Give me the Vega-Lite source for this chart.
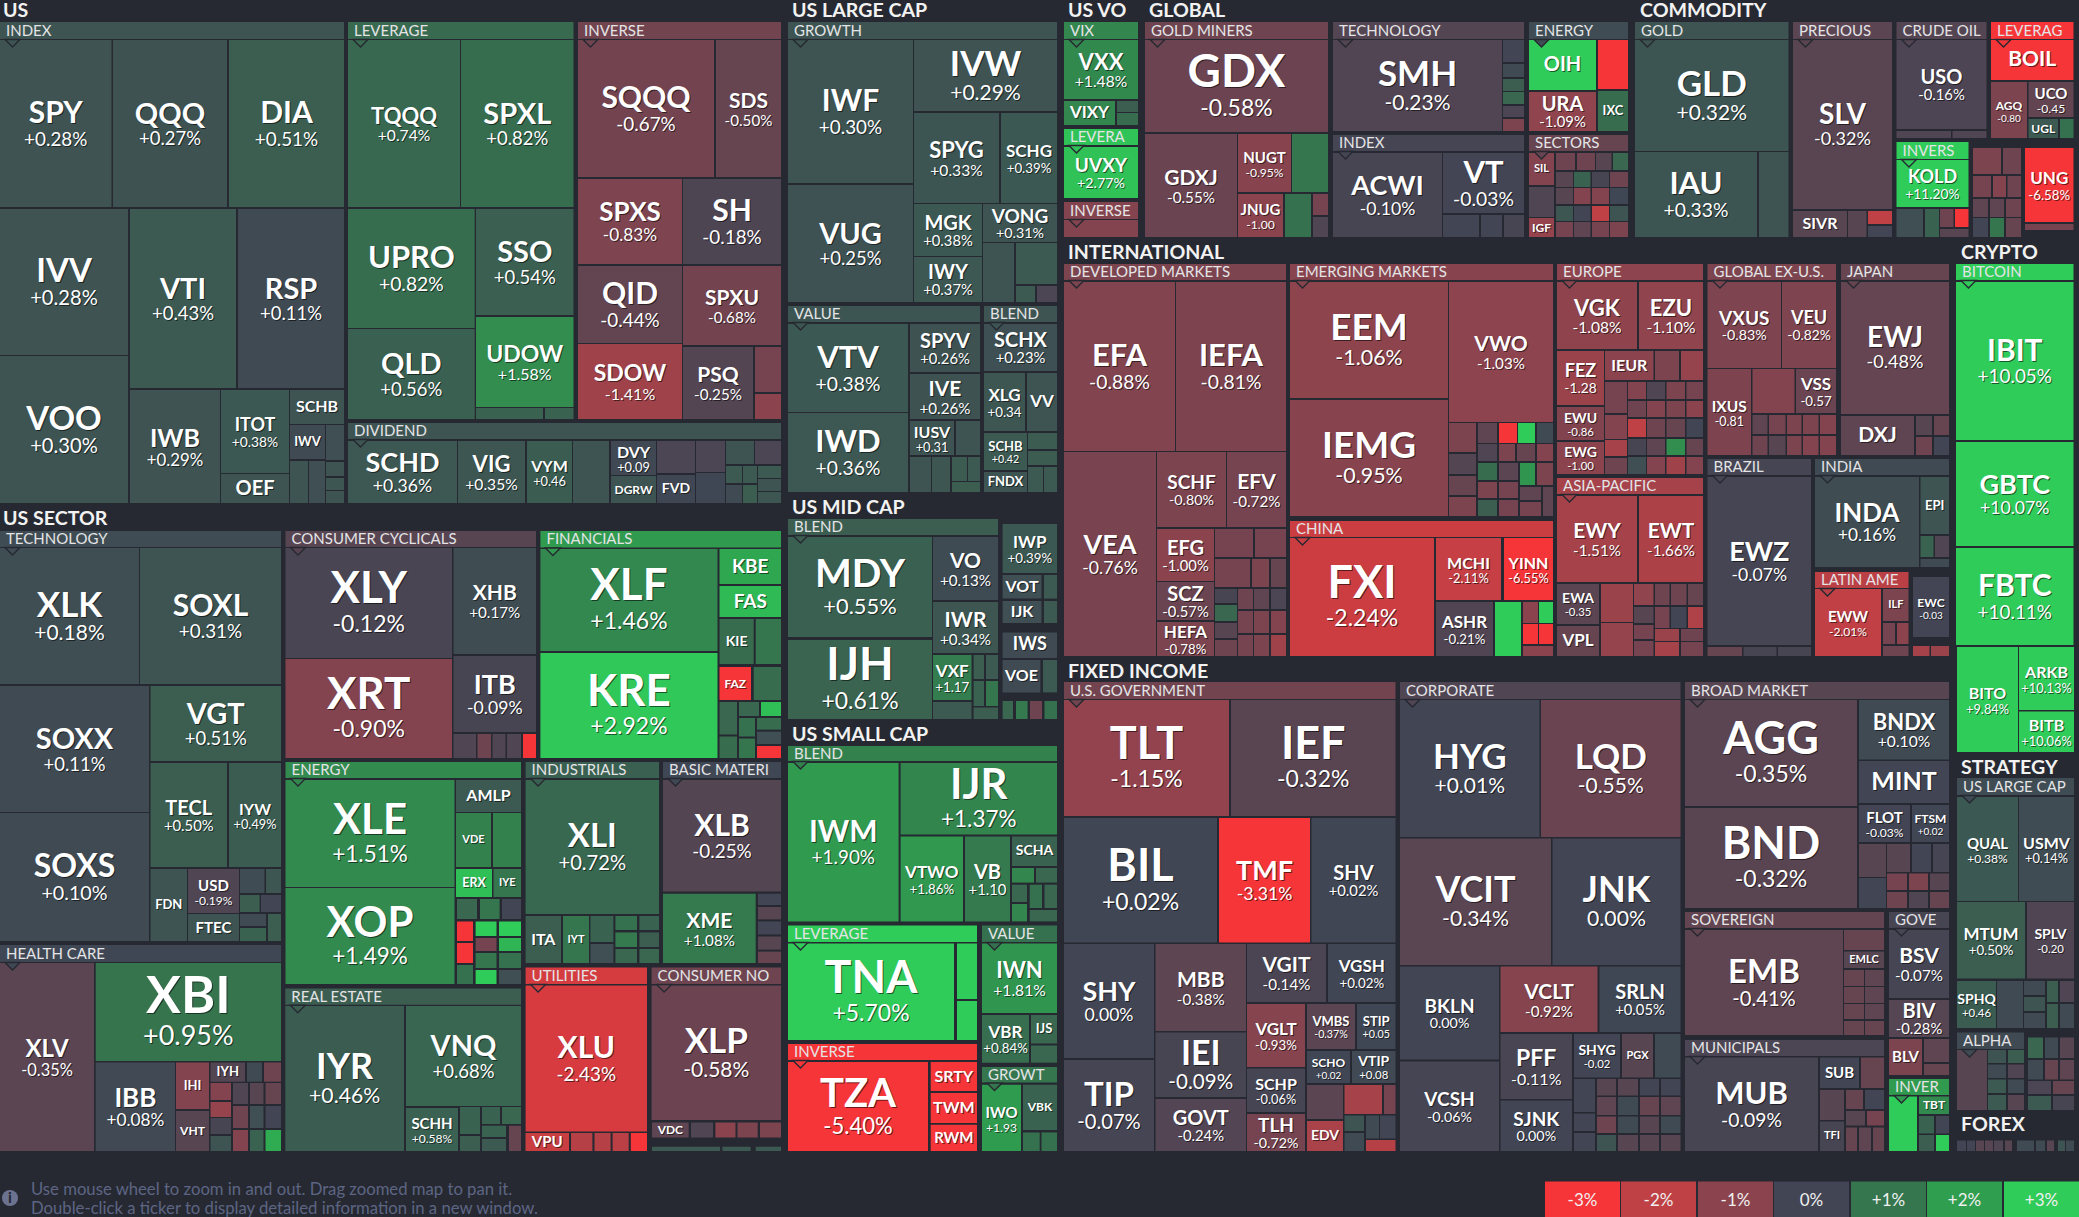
{"$schema":"https://vega.github.io/schema/vega-lite/v6.json","width":2079,"height":1217,"padding":0,"autosize":{"type":"none"},"background":"#262931","config":{"view":{"stroke":null},"font":"Lato"},
"datasets":{
"titles":[{"n":"US","x":3,"y":11},{"n":"US LARGE CAP","x":792,"y":11},{"n":"US VO","x":1068,"y":11},{"n":"GLOBAL","x":1149,"y":11},{"n":"COMMODITY","x":1640,"y":11},{"n":"INTERNATIONAL","x":1068,"y":253},{"n":"CRYPTO","x":1961,"y":253},{"n":"US SECTOR","x":3,"y":519},{"n":"US MID CAP","x":792,"y":508},{"n":"US SMALL CAP","x":792,"y":735},{"n":"FIXED INCOME","x":1068,"y":672},{"n":"STRATEGY","x":1961,"y":768},{"n":"FOREX","x":1961,"y":1125}],
"headers":[{"n":"INDEX","c":0.3,"x":0,"x2":344,"y":22,"y2":39},{"n":"LEVERAGE","c":0.75,"x":348,"x2":573.5,"y":22,"y2":39},{"n":"INVERSE","c":-0.65,"x":578,"x2":781,"y":22,"y2":39},{"n":"DIVIDEND","c":0.3,"x":348,"x2":781,"y":423,"y2":439},{"n":"GROWTH","c":0.3,"x":788,"x2":1057,"y":22,"y2":39},{"n":"VALUE","c":0.33,"x":788,"x2":980,"y":306,"y2":322},{"n":"BLEND","c":0.3,"x":984,"x2":1057,"y":306,"y2":322},{"n":"VIX","c":1.4,"x":1064,"x2":1138,"y":22,"y2":39},{"n":"LEVERA","c":2.8,"x":1064,"x2":1138,"y":129,"y2":145},{"n":"INVERSE","c":-0.9,"x":1064,"x2":1138,"y":202,"y2":219},{"n":"GOLD MINERS","c":-0.6,"x":1145,"x2":1328,"y":22,"y2":39},{"n":"TECHNOLOGY","c":-0.25,"x":1333,"x2":1524,"y":22,"y2":39},{"n":"INDEX","c":-0.05,"x":1333,"x2":1524,"y":135,"y2":151},{"n":"ENERGY","c":0.15,"x":1529,"x2":1628,"y":22,"y2":39},{"n":"SECTORS","c":-0.5,"x":1529,"x2":1628,"y":135,"y2":151},{"n":"GOLD","c":0.3,"x":1635,"x2":1788.5,"y":22,"y2":39},{"n":"PRECIOUS","c":-0.35,"x":1793,"x2":1892,"y":22,"y2":39},{"n":"CRUDE OIL","c":-0.25,"x":1896.5,"x2":1986.5,"y":22,"y2":39},{"n":"LEVERAG","c":-3.5,"x":1991,"x2":2073.5,"y":22,"y2":39},{"n":"INVERS","c":3,"x":1896.5,"x2":1968.5,"y":142,"y2":159},{"n":"DEVELOPED MARKETS","c":-0.8,"x":1064,"x2":1286,"y":264,"y2":280},{"n":"EMERGING MARKETS","c":-0.95,"x":1290,"x2":1553,"y":264,"y2":280},{"n":"CHINA","c":-2.2,"x":1290,"x2":1553,"y":521,"y2":537},{"n":"EUROPE","c":-1.05,"x":1557,"x2":1703,"y":264,"y2":280},{"n":"ASIA-PACIFIC","c":-1.5,"x":1557,"x2":1703,"y":478,"y2":494},{"n":"GLOBAL EX-U.S.","c":-0.8,"x":1707.5,"x2":1836,"y":264,"y2":280},{"n":"JAPAN","c":-0.5,"x":1841,"x2":1949,"y":264,"y2":280},{"n":"BRAZIL","c":-0.05,"x":1707.5,"x2":1811,"y":459,"y2":475},{"n":"INDIA","c":0.1,"x":1815,"x2":1949,"y":459,"y2":475},{"n":"LATIN AME","c":-1.9,"x":1815,"x2":1908.5,"y":572,"y2":588},{"n":"BITCOIN","c":3,"x":1956,"x2":2073.5,"y":264,"y2":280},{"n":"US LARGE CAP","c":0.15,"x":1957,"x2":2074,"y":778,"y2":795},{"n":"ALPHA","c":0.1,"x":1957,"x2":2024,"y":1032.5,"y2":1049},{"n":"TECHNOLOGY","c":0.15,"x":0,"x2":281,"y":531,"y2":547},{"n":"CONSUMER CYCLICALS","c":-0.3,"x":285.5,"x2":536,"y":531,"y2":547},{"n":"ENERGY","c":1.5,"x":285.5,"x2":521,"y":762,"y2":778},{"n":"HEALTH CARE","c":0.05,"x":0,"x2":281,"y":945,"y2":962},{"n":"FINANCIALS","c":1.9,"x":540.4,"x2":781,"y":531,"y2":547.5},{"n":"INDUSTRIALS","c":0.55,"x":525.6,"x2":659,"y":762,"y2":778},{"n":"BASIC MATERI","c":0.05,"x":663,"x2":781,"y":762,"y2":778},{"n":"REAL ESTATE","c":0.5,"x":285.3,"x2":521,"y":988.4,"y2":1004.7},{"n":"UTILITIES","c":-2.4,"x":525.6,"x2":647,"y":967.5,"y2":984},{"n":"CONSUMER NO","c":-0.6,"x":651.6,"x2":781,"y":967.5,"y2":984},{"n":"BLEND","c":0.5,"x":788,"x2":998,"y":519,"y2":535},{"n":"BLEND","c":1.3,"x":788,"x2":1057,"y":746,"y2":761},{"n":"LEVERAGE","c":3,"x":788,"x2":977,"y":925.5,"y2":942},{"n":"VALUE","c":0.9,"x":982,"x2":1057,"y":925.5,"y2":942},{"n":"INVERSE","c":-3.5,"x":788,"x2":977,"y":1044,"y2":1060},{"n":"GROWT","c":1,"x":982,"x2":1057,"y":1067,"y2":1082.6},{"n":"U.S. GOVERNMENT","c":-0.65,"x":1064,"x2":1395.5,"y":682,"y2":699},{"n":"CORPORATE","c":-0.2,"x":1400,"x2":1680.5,"y":682,"y2":699},{"n":"BROAD MARKET","c":-0.3,"x":1685,"x2":1949,"y":682,"y2":699},{"n":"SOVEREIGN","c":-0.45,"x":1685,"x2":1884,"y":912,"y2":928},{"n":"GOVE","c":-0.1,"x":1889,"x2":1949,"y":912,"y2":928},{"n":"MUNICIPALS","c":-0.15,"x":1685,"x2":1884,"y":1040,"y2":1056},{"n":"INVER","c":1.9,"x":1889,"x2":1949,"y":1079,"y2":1095}],
"legend":[{"n":"-3%","c":-3,"x":1545,"x2":1620,"y":1181.5,"y2":1217},{"n":"-2%","c":-2,"x":1621,"x2":1696,"y":1181.5,"y2":1217},{"n":"-1%","c":-1,"x":1698,"x2":1773,"y":1181.5,"y2":1217},{"n":"0%","c":0,"x":1774,"x2":1849,"y":1181.5,"y2":1217},{"n":"+1%","c":1,"x":1851,"x2":1926,"y":1181.5,"y2":1217},{"n":"+2%","c":2,"x":1927,"x2":2002,"y":1181.5,"y2":1217},{"n":"+3%","c":3,"x":2004,"x2":2079,"y":1181.5,"y2":1217}],
"notes":[{"n":"Use mouse wheel to zoom in and out. Drag zoomed map to pan it.","x":31,"y":1190},{"n":"Double-click a ticker to display detailed information in a new window.","x":31,"y":1209}],
"icon":[{"n":"i","x":10,"y":1198}],
"tiles":[
{"t":"SPY","p":"+0.28%","c":0.28,"x":0,"x2":111.5,"y":40,"y2":207,"f":30},{"t":"QQQ","p":"+0.27%","c":0.27,"x":113,"x2":227,"y":40,"y2":207,"f":29},{"t":"DIA","p":"+0.51%","c":0.51,"x":229,"x2":344,"y":40,"y2":207,"f":30},
{"t":"IVV","p":"+0.28%","c":0.28,"x":0,"x2":128,"y":209,"y2":355,"f":33},{"t":"VTI","p":"+0.43%","c":0.43,"x":130,"x2":236,"y":209,"y2":388,"f":29},{"t":"RSP","p":"+0.11%","c":0.11,"x":238,"x2":344,"y":209,"y2":388,"f":29},{"t":"VOO","p":"+0.30%","c":0.3,"x":0,"x2":128,"y":356,"y2":503,"f":33},{"t":"IWB","p":"+0.29%","c":0.29,"x":130,"x2":220,"y":390,"y2":503,"f":25},{"t":"ITOT","p":"+0.38%","c":0.38,"x":221,"x2":289,"y":390,"y2":473,"f":18},{"t":"OEF","c":0.3,"x":221,"x2":289,"y":474,"y2":503,"f":20},{"t":"SCHB","c":0.3,"x":290,"x2":344,"y":390,"y2":424,"f":16},{"t":"IWV","c":0.1,"x":290,"x2":325,"y":425,"y2":459,"f":13},{"c":0.2,"x":326,"x2":344,"y":425,"y2":460},{"c":0.3,"x":290,"x2":308,"y":461,"y2":503},{"c":0.2,"x":309,"x2":325,"y":461,"y2":503},{"c":0.3,"x":326,"x2":344,"y":462,"y2":476},{"c":0.35,"x":326,"x2":344,"y":478,"y2":490},{"c":0.3,"x":326,"x2":344,"y":491,"y2":503},
{"t":"TQQQ","p":"+0.74%","c":0.74,"x":348,"x2":460,"y":40,"y2":207,"f":22},{"t":"SPXL","p":"+0.82%","c":0.82,"x":461,"x2":573.5,"y":40,"y2":207,"f":29},{"t":"UPRO","p":"+0.82%","c":0.82,"x":348,"x2":474.7,"y":209,"y2":328,"f":31},{"t":"SSO","p":"+0.54%","c":0.54,"x":476,"x2":573.5,"y":209,"y2":315,"f":29},{"t":"QLD","p":"+0.56%","c":0.56,"x":348,"x2":474.7,"y":329,"y2":419,"f":29},{"t":"UDOW","p":"+1.58%","c":1.58,"x":476,"x2":573.5,"y":317,"y2":407,"f":23},{"c":0.6,"x":476,"x2":543,"y":408,"y2":419},{"c":0.6,"x":545,"x2":573.5,"y":408,"y2":419},
{"t":"SQQQ","p":"-0.67%","c":-0.67,"x":578,"x2":714,"y":40,"y2":177,"f":30},{"t":"SDS","p":"-0.50%","c":-0.5,"x":716,"x2":781,"y":40,"y2":177,"f":21},{"t":"SPXS","p":"-0.83%","c":-0.83,"x":578,"x2":682,"y":179,"y2":264,"f":26},{"t":"SH","p":"-0.18%","c":-0.18,"x":683,"x2":781,"y":179,"y2":264,"f":30},{"t":"QID","p":"-0.44%","c":-0.44,"x":578,"x2":682,"y":266,"y2":343,"f":30},{"t":"SPXU","p":"-0.68%","c":-0.68,"x":683,"x2":781,"y":266,"y2":345,"f":21},{"t":"SDOW","p":"-1.41%","c":-1.41,"x":578,"x2":682,"y":344,"y2":419,"f":23},{"t":"PSQ","p":"-0.25%","c":-0.25,"x":683,"x2":753,"y":347,"y2":419,"f":21},{"c":-0.7,"x":755,"x2":781,"y":347,"y2":392},{"c":-1,"x":755,"x2":781,"y":394,"y2":419},
{"t":"SCHD","p":"+0.36%","c":0.36,"x":348,"x2":457,"y":441,"y2":503,"f":27},{"t":"VIG","p":"+0.35%","c":0.35,"x":458,"x2":525,"y":441,"y2":503,"f":22},{"t":"VYM","p":"+0.46","c":0.46,"x":527,"x2":572,"y":441,"y2":503,"f":16},{"c":0.3,"x":573,"x2":609,"y":441,"y2":503},{"t":"DVY","p":"+0.09","c":0.09,"x":611,"x2":656,"y":441,"y2":475,"f":16},{"t":"DGRW","c":0.3,"x":611,"x2":656,"y":476,"y2":503,"f":12},{"c":-0.15,"x":657,"x2":695,"y":441,"y2":473},{"t":"FVD","c":0.05,"x":657,"x2":695,"y":475,"y2":503,"f":14},{"c":-0.15,"x":696,"x2":725,"y":441,"y2":472},{"c":0.05,"x":696,"x2":725,"y":473,"y2":503},{"c":0.3,"x":726,"x2":754,"y":441,"y2":464},{"c":-0.15,"x":755,"x2":781,"y":441,"y2":464},{"c":0.4,"x":726,"x2":742,"y":466,"y2":483},{"c":0.4,"x":743,"x2":757,"y":466,"y2":483},{"c":0.4,"x":758,"x2":781,"y":466,"y2":478},{"c":0.3,"x":758,"x2":781,"y":479,"y2":491},{"c":0.35,"x":758,"x2":781,"y":492,"y2":503},{"c":0.1,"x":726,"x2":742,"y":485,"y2":503},{"c":0.5,"x":743,"x2":757,"y":485,"y2":503},
{"t":"IWF","p":"+0.30%","c":0.3,"x":788,"x2":913,"y":40,"y2":183,"f":30},{"t":"VUG","p":"+0.25%","c":0.25,"x":788,"x2":913,"y":185,"y2":302,"f":29},{"t":"IVW","p":"+0.29%","c":0.29,"x":914,"x2":1057,"y":40,"y2":111,"f":35},{"t":"SPYG","p":"+0.33%","c":0.33,"x":914,"x2":999,"y":113,"y2":203,"f":22},{"t":"SCHG","p":"+0.39%","c":0.39,"x":1001,"x2":1057,"y":113,"y2":203,"f":17},{"t":"MGK","p":"+0.38%","c":0.38,"x":914,"x2":982,"y":204,"y2":256,"f":20},{"t":"IWY","p":"+0.37%","c":0.37,"x":914,"x2":982,"y":257,"y2":302,"f":20},{"t":"VONG","p":"+0.31%","c":0.31,"x":983,"x2":1057,"y":204,"y2":242,"f":19},{"c":0.3,"x":983,"x2":1014,"y":243,"y2":302},{"c":0.4,"x":1016,"x2":1057,"y":243,"y2":284},{"c":0.4,"x":1016,"x2":1035,"y":286,"y2":302},{"c":-0.15,"x":1037,"x2":1057,"y":286,"y2":302},
{"t":"VTV","p":"+0.38%","c":0.38,"x":788,"x2":908,"y":324,"y2":412,"f":31},{"t":"IWD","p":"+0.36%","c":0.36,"x":788,"x2":908,"y":413,"y2":492,"f":31},{"t":"SPYV","p":"+0.26%","c":0.26,"x":910,"x2":980,"y":324,"y2":372,"f":20},{"t":"IVE","p":"+0.26%","c":0.26,"x":910,"x2":980,"y":374,"y2":419,"f":21},{"t":"IUSV","p":"+0.31","c":0.31,"x":910,"x2":954,"y":421,"y2":455,"f":16},{"c":0.3,"x":956,"x2":980,"y":421,"y2":455},{"c":0.3,"x":910,"x2":931,"y":457,"y2":492},{"c":0.35,"x":932,"x2":950,"y":457,"y2":492},{"c":0.45,"x":952,"x2":967,"y":457,"y2":481},{"c":0.4,"x":968,"x2":980,"y":457,"y2":481},{"c":0.5,"x":952,"x2":980,"y":482,"y2":492},
{"t":"SCHX","p":"+0.23%","c":0.23,"x":984,"x2":1057,"y":324,"y2":371,"f":20},{"t":"XLG","p":"+0.34","c":0.34,"x":984,"x2":1025,"y":373,"y2":431,"f":17},{"t":"VV","c":0.3,"x":1027,"x2":1057,"y":373,"y2":431,"f":17},{"t":"SCHB","p":"+0.42","c":0.42,"x":984,"x2":1027,"y":433,"y2":470,"f":13},{"t":"FNDX","c":0.3,"x":984,"x2":1027,"y":472,"y2":492,"f":13},{"c":0.45,"x":1028,"x2":1057,"y":433,"y2":449},{"c":0.45,"x":1028,"x2":1057,"y":451,"y2":465},{"c":0.4,"x":1028,"x2":1043,"y":467,"y2":492},{"c":0.4,"x":1044,"x2":1057,"y":467,"y2":492},
{"t":"VXX","p":"+1.48%","c":1.48,"x":1064,"x2":1138,"y":40,"y2":99,"f":22},{"t":"VIXY","c":1.4,"x":1064,"x2":1115,"y":101,"y2":125,"f":17},{"c":0.5,"x":1117,"x2":1138,"y":101,"y2":112},{"c":0.8,"x":1117,"x2":1138,"y":113,"y2":125},{"t":"UVXY","p":"+2.77%","c":2.77,"x":1064,"x2":1138,"y":147,"y2":198,"f":19},{"c":-0.9,"x":1064,"x2":1138,"y":220,"y2":237},
{"t":"GDX","p":"-0.58%","c":-0.58,"x":1145,"x2":1328,"y":40,"y2":132,"f":46},{"t":"GDXJ","p":"-0.55%","c":-0.55,"x":1145,"x2":1237,"y":134,"y2":237,"f":21},{"t":"NUGT","p":"-0.95%","c":-0.95,"x":1238,"x2":1291,"y":134,"y2":192,"f":15},{"c":1,"x":1292,"x2":1328,"y":134,"y2":192},{"t":"JNUG","p":"-1.00","c":-1,"x":1238,"x2":1283,"y":194,"y2":237,"f":15},{"c":0.9,"x":1285,"x2":1311,"y":194,"y2":237},{"c":-0.7,"x":1313,"x2":1328,"y":194,"y2":215},{"c":-0.2,"x":1313,"x2":1328,"y":217,"y2":237},
{"t":"SMH","p":"-0.23%","c":-0.23,"x":1333,"x2":1502,"y":40,"y2":131,"f":35},{"c":0,"x":1503,"x2":1524,"y":40,"y2":62},{"c":0.1,"x":1503,"x2":1524,"y":64,"y2":77},{"c":0.5,"x":1503,"x2":1524,"y":79,"y2":91},{"c":0.7,"x":1503,"x2":1524,"y":92,"y2":104},{"c":-0.15,"x":1503,"x2":1524,"y":106,"y2":117},{"c":-0.8,"x":1503,"x2":1524,"y":119,"y2":131},
{"t":"ACWI","p":"-0.10%","c":-0.1,"x":1333,"x2":1442,"y":153,"y2":237,"f":27},{"t":"VT","p":"-0.03%","c":-0.03,"x":1443,"x2":1524,"y":153,"y2":213,"f":31},{"c":0,"x":1443,"x2":1479,"y":215,"y2":237},{"c":0,"x":1481,"x2":1502,"y":215,"y2":237},{"c":-0.1,"x":1504,"x2":1524,"y":215,"y2":237},
{"t":"OIH","c":3.2,"x":1529,"x2":1596,"y":40,"y2":90,"f":20},{"c":-3.5,"x":1598,"x2":1628,"y":40,"y2":89},{"t":"URA","p":"-1.09%","c":-1.09,"x":1529,"x2":1596,"y":92,"y2":131,"f":20},{"t":"IXC","c":0.8,"x":1598,"x2":1628,"y":91,"y2":131,"f":13},
{"t":"SIL","c":-0.9,"x":1529,"x2":1554,"y":153,"y2":185,"f":11},{"c":-0.2,"x":1529,"x2":1554,"y":187,"y2":217},{"t":"IGF","c":-1.2,"x":1529,"x2":1554,"y":218,"y2":237,"f":12},
{"c":-0.6,"x":1556,"x2":1575,"y":153,"y2":170},{"c":-0.6,"x":1577,"x2":1595,"y":153,"y2":170},{"c":-0.3,"x":1596,"x2":1611.5,"y":153,"y2":170},{"c":0.7,"x":1613,"x2":1628,"y":153,"y2":170},
{"c":-0.3,"x":1556,"x2":1573,"y":172,"y2":187},{"c":0.6,"x":1574,"x2":1590.5,"y":172,"y2":187},{"c":-0.1,"x":1592,"x2":1609,"y":172,"y2":187},{"c":-0.6,"x":1610,"x2":1628,"y":172,"y2":187},
{"c":-0.3,"x":1556,"x2":1573,"y":188,"y2":204},{"c":-0.9,"x":1574,"x2":1590.5,"y":188,"y2":204},{"c":-0.9,"x":1592,"x2":1609,"y":188,"y2":204},{"c":0.05,"x":1610,"x2":1628,"y":188,"y2":204},
{"c":0.35,"x":1556,"x2":1573,"y":206,"y2":221},{"c":0,"x":1574,"x2":1590.5,"y":206,"y2":221},{"c":-2,"x":1592,"x2":1609,"y":206,"y2":221},{"c":0.3,"x":1610,"x2":1628,"y":206,"y2":221},
{"c":-0.7,"x":1556,"x2":1573,"y":222,"y2":237},{"c":-0.4,"x":1574,"x2":1590.5,"y":222,"y2":237},{"c":-0.7,"x":1592,"x2":1609,"y":222,"y2":237},{"c":-0.8,"x":1610,"x2":1628,"y":222,"y2":237},
{"t":"GLD","p":"+0.32%","c":0.32,"x":1635,"x2":1788.5,"y":40,"y2":151,"f":35},{"t":"IAU","p":"+0.33%","c":0.33,"x":1635,"x2":1757,"y":152,"y2":237,"f":31},{"c":0.3,"x":1759,"x2":1788.5,"y":152,"y2":237},
{"t":"SLV","p":"-0.32%","c":-0.32,"x":1793,"x2":1892,"y":40,"y2":209,"f":28},{"t":"SIVR","c":-0.3,"x":1793,"x2":1847,"y":211,"y2":237,"f":16},{"c":-0.3,"x":1848,"x2":1866.5,"y":211,"y2":237},{"c":-2,"x":1868,"x2":1892,"y":211,"y2":224},{"c":0,"x":1868,"x2":1892,"y":226,"y2":237},
{"t":"USO","p":"-0.16%","c":-0.16,"x":1896.5,"x2":1986.5,"y":40,"y2":129,"f":20},{"c":-0.2,"x":1896.5,"x2":1951,"y":131,"y2":138},{"c":-0.2,"x":1952.5,"x2":1986.5,"y":131,"y2":138},
{"t":"BOIL","c":-3.5,"x":1991,"x2":2073.5,"y":40,"y2":80,"f":21},{"t":"AGQ","p":"-0.80","c":-0.8,"x":1991,"x2":2027,"y":82,"y2":138,"f":12},{"t":"UCO","p":"-0.45","c":-0.45,"x":2028.5,"x2":2073.5,"y":82,"y2":117,"f":15},{"t":"UGL","c":0.4,"x":2028.5,"x2":2058,"y":119,"y2":138,"f":12},{"c":0.9,"x":2060,"x2":2073.5,"y":119,"y2":138},
{"t":"KOLD","p":"+11.20%","c":11.2,"x":1896.5,"x2":1968.5,"y":160,"y2":207,"f":18},{"c":0.2,"x":1896.5,"x2":1923,"y":209,"y2":237},{"c":0.6,"x":1925,"x2":1939,"y":209,"y2":237},{"c":-0.6,"x":1940,"x2":1953.5,"y":209,"y2":227},{"c":-4,"x":1955,"x2":1968.5,"y":209,"y2":227},{"c":-0.3,"x":1940,"x2":1968.5,"y":229,"y2":237},
{"c":-0.8,"x":1973,"x2":2001,"y":148,"y2":174},{"c":-0.6,"x":2003,"x2":2021,"y":148,"y2":174},{"c":-0.7,"x":1973,"x2":1991,"y":176,"y2":197},{"c":-0.9,"x":1993,"x2":2006,"y":176,"y2":197},{"c":-0.6,"x":2007.5,"x2":2021,"y":176,"y2":197},{"c":-0.4,"x":1973,"x2":1988,"y":199,"y2":217},{"c":-0.4,"x":1990,"x2":2004,"y":199,"y2":217},{"c":-0.6,"x":2006,"x2":2021,"y":199,"y2":217},{"c":0,"x":1973,"x2":1988,"y":218,"y2":237},{"c":1,"x":1990,"x2":2004,"y":218,"y2":237},{"c":-0.5,"x":2006,"x2":2021,"y":218,"y2":237},
{"t":"UNG","p":"-6.58%","c":-6.58,"x":2025,"x2":2073.5,"y":148,"y2":222,"f":17},{"c":-0.7,"x":2025,"x2":2073.5,"y":224,"y2":230},
{"t":"EFA","p":"-0.88%","c":-0.88,"x":1064,"x2":1175,"y":282,"y2":451,"f":31},{"t":"IEFA","p":"-0.81%","c":-0.81,"x":1176,"x2":1286,"y":282,"y2":451,"f":31},{"t":"VEA","p":"-0.76%","c":-0.76,"x":1064,"x2":1156,"y":452,"y2":656,"f":27},{"t":"SCHF","p":"-0.80%","c":-0.8,"x":1157,"x2":1226,"y":452,"y2":527,"f":19},{"t":"EFV","p":"-0.72%","c":-0.72,"x":1227,"x2":1286,"y":452,"y2":527,"f":21},{"t":"EFG","p":"-1.00%","c":-1,"x":1157,"x2":1214,"y":529,"y2":581,"f":20},{"t":"SCZ","p":"-0.57%","c":-0.57,"x":1157,"x2":1214,"y":582,"y2":620,"f":20},{"t":"HEFA","p":"-0.78%","c":-0.78,"x":1157,"x2":1214,"y":622,"y2":656,"f":17},
{"c":-0.7,"x":1215,"x2":1253,"y":529,"y2":557},{"c":-0.7,"x":1255,"x2":1286,"y":529,"y2":557},{"c":-0.7,"x":1215,"x2":1250,"y":559,"y2":587},{"c":-0.8,"x":1252,"x2":1269,"y":559,"y2":587},{"c":-0.5,"x":1271,"x2":1286,"y":559,"y2":587},{"c":-0.1,"x":1215,"x2":1237,"y":589,"y2":603},{"c":0.7,"x":1215,"x2":1237,"y":605,"y2":621},{"c":-0.3,"x":1215,"x2":1237,"y":623,"y2":638},{"c":-0.6,"x":1215,"x2":1237,"y":640,"y2":656},{"c":-0.6,"x":1238,"x2":1253,"y":589,"y2":609},{"c":-0.7,"x":1238,"x2":1253,"y":611,"y2":633},{"c":-0.7,"x":1238,"x2":1253,"y":635,"y2":656},{"c":-0.4,"x":1254,"x2":1269,"y":589,"y2":609},{"c":-0.8,"x":1254,"x2":1269,"y":611,"y2":633},{"c":-0.8,"x":1254,"x2":1269,"y":635,"y2":656},{"c":-0.15,"x":1271,"x2":1286,"y":589,"y2":609},{"c":-0.9,"x":1271,"x2":1286,"y":611,"y2":633},{"c":-1.4,"x":1271,"x2":1286,"y":635,"y2":656},
{"t":"EEM","p":"-1.06%","c":-1.06,"x":1290,"x2":1448,"y":282,"y2":398,"f":37},{"t":"IEMG","p":"-0.95%","c":-0.95,"x":1290,"x2":1448,"y":400,"y2":516,"f":37},{"t":"VWO","p":"-1.03%","c":-1.03,"x":1449,"x2":1553,"y":282,"y2":422,"f":21},
{"c":-0.8,"x":1449,"x2":1476,"y":423,"y2":452},{"c":-0.25,"x":1449,"x2":1476,"y":454,"y2":474},{"c":-0.5,"x":1449,"x2":1476,"y":476,"y2":495},{"c":-0.8,"x":1449,"x2":1476,"y":497,"y2":516},{"c":-0.4,"x":1478,"x2":1497,"y":423,"y2":443},{"c":-0.2,"x":1478,"x2":1497,"y":444,"y2":461},{"c":0.8,"x":1478,"x2":1497,"y":463,"y2":480},{"c":-0.8,"x":1478,"x2":1497,"y":482,"y2":498},{"c":0.5,"x":1478,"x2":1497,"y":500,"y2":516},{"c":-3.5,"x":1499,"x2":1517,"y":423,"y2":443},{"c":3,"x":1518,"x2":1535,"y":423,"y2":443},{"c":0.1,"x":1537,"x2":1553,"y":423,"y2":443},{"c":-0.8,"x":1499,"x2":1515,"y":444,"y2":461},{"c":-0.5,"x":1517,"x2":1535,"y":444,"y2":461},{"c":-0.9,"x":1537,"x2":1553,"y":444,"y2":461},{"c":-0.35,"x":1499,"x2":1518,"y":463,"y2":480},{"c":1.8,"x":1520,"x2":1535,"y":463,"y2":485},{"c":-0.8,"x":1537,"x2":1553,"y":463,"y2":485},{"c":-0.7,"x":1499,"x2":1518,"y":482,"y2":498},{"c":-0.7,"x":1499,"x2":1518,"y":500,"y2":516},{"c":-0.4,"x":1520,"x2":1541,"y":487,"y2":500},{"c":-0.4,"x":1543,"x2":1553,"y":487,"y2":516},{"c":-0.7,"x":1520,"x2":1541,"y":502,"y2":516},
{"t":"FXI","p":"-2.24%","c":-2.24,"x":1290,"x2":1434,"y":538,"y2":656,"f":45},{"t":"MCHI","p":"-2.11%","c":-2.11,"x":1436,"x2":1501,"y":538,"y2":600,"f":16},{"t":"YINN","p":"-6.55%","c":-6.55,"x":1504,"x2":1553,"y":538,"y2":600,"f":16},{"t":"ASHR","p":"-0.21%","c":-0.21,"x":1436,"x2":1493,"y":602,"y2":656,"f":17},{"c":3,"x":1495,"x2":1521,"y":602,"y2":656},{"c":-1,"x":1523,"x2":1538,"y":602,"y2":623},{"c":3,"x":1539,"x2":1553,"y":602,"y2":623},{"c":-3.5,"x":1523,"x2":1538,"y":624,"y2":644},{"c":-3.5,"x":1539,"x2":1553,"y":624,"y2":644},{"c":-1,"x":1523,"x2":1553,"y":646,"y2":656},
{"t":"VGK","p":"-1.08%","c":-1.08,"x":1557,"x2":1637,"y":282,"y2":349,"f":22},{"t":"EZU","p":"-1.10%","c":-1.1,"x":1639,"x2":1703,"y":282,"y2":349,"f":22},{"t":"FEZ","p":"-1.28","c":-1.28,"x":1557,"x2":1604,"y":351,"y2":405,"f":18},{"t":"EWU","p":"-0.86","c":-0.86,"x":1557,"x2":1604,"y":407,"y2":440,"f":14},{"t":"EWG","p":"-1.00","c":-1,"x":1557,"x2":1604,"y":442,"y2":474,"f":14},{"t":"IEUR","c":-1,"x":1605,"x2":1653.5,"y":351,"y2":380,"f":16},{"c":-0.8,"x":1655,"x2":1679,"y":351,"y2":380},{"c":-1.2,"x":1681,"x2":1703,"y":351,"y2":380},
{"c":-0.7,"x":1605,"x2":1627,"y":382,"y2":413},{"c":-0.9,"x":1605,"x2":1627,"y":415,"y2":439},{"c":-1.5,"x":1605,"x2":1627,"y":440,"y2":456},{"c":-0.6,"x":1605,"x2":1627,"y":458,"y2":474},
{"c":-0.9,"x":1628,"x2":1646,"y":382,"y2":399},{"c":-0.2,"x":1647,"x2":1665,"y":382,"y2":399},{"c":-0.8,"x":1666.5,"x2":1685,"y":382,"y2":399},{"c":-0.7,"x":1686.5,"x2":1703,"y":382,"y2":399},
{"c":-0.6,"x":1628,"x2":1646,"y":401,"y2":417},{"c":-0.9,"x":1647,"x2":1665,"y":401,"y2":417},{"c":-0.8,"x":1666.5,"x2":1685,"y":401,"y2":417},{"c":-1,"x":1686.5,"x2":1703,"y":401,"y2":417},
{"c":-2,"x":1628,"x2":1646,"y":419,"y2":437},{"c":-0.6,"x":1647,"x2":1665,"y":419,"y2":437},{"c":-0.5,"x":1666.5,"x2":1685,"y":419,"y2":437},{"c":0,"x":1686.5,"x2":1703,"y":419,"y2":437},
{"c":-0.1,"x":1628,"x2":1646,"y":439,"y2":455},{"c":-0.4,"x":1647,"x2":1665,"y":439,"y2":455},{"c":1.6,"x":1666.5,"x2":1685,"y":439,"y2":455},{"c":-0.5,"x":1686.5,"x2":1703,"y":439,"y2":455},
{"c":0.2,"x":1628,"x2":1646,"y":457,"y2":474},{"c":-0.9,"x":1647,"x2":1665,"y":457,"y2":474},{"c":-1.4,"x":1666.5,"x2":1685,"y":457,"y2":474},{"c":-0.9,"x":1686.5,"x2":1703,"y":457,"y2":474},
{"t":"EWY","p":"-1.51%","c":-1.51,"x":1557,"x2":1637,"y":496,"y2":582,"f":21},{"t":"EWT","p":"-1.66%","c":-1.66,"x":1639,"x2":1703,"y":496,"y2":582,"f":21},{"t":"EWA","p":"-0.35","c":-0.35,"x":1557,"x2":1599,"y":584,"y2":624,"f":14},{"t":"VPL","c":-0.5,"x":1557,"x2":1599,"y":626,"y2":656,"f":17},{"c":-1.3,"x":1601,"x2":1633,"y":584,"y2":622},{"c":-1.2,"x":1601,"x2":1633,"y":623,"y2":656},{"c":-1.1,"x":1634,"x2":1653.5,"y":584,"y2":605},{"c":-0.6,"x":1655,"x2":1669.5,"y":584,"y2":605},{"c":-0.6,"x":1671,"x2":1686.5,"y":584,"y2":605},{"c":-0.5,"x":1688,"x2":1703,"y":584,"y2":605},{"c":-0.3,"x":1634,"x2":1653.5,"y":607,"y2":623},{"c":-0.7,"x":1655,"x2":1669.5,"y":607,"y2":628},{"c":0,"x":1671,"x2":1686.5,"y":607,"y2":628},{"c":-1.7,"x":1688,"x2":1703,"y":607,"y2":628},{"c":-0.7,"x":1634,"x2":1653.5,"y":625,"y2":639},{"c":-0.7,"x":1634,"x2":1653.5,"y":641,"y2":656},{"c":-1.3,"x":1655,"x2":1679,"y":629,"y2":641},{"c":-1.5,"x":1655,"x2":1679,"y":642,"y2":656},{"c":-0.6,"x":1681,"x2":1703,"y":629,"y2":641},{"c":-0.7,"x":1681,"x2":1703,"y":642,"y2":656},
{"t":"VXUS","p":"-0.83%","c":-0.83,"x":1707.5,"x2":1781,"y":282,"y2":368,"f":19},{"t":"VEU","p":"-0.82%","c":-0.82,"x":1782,"x2":1836,"y":282,"y2":368,"f":18},{"t":"IXUS","p":"-0.81","c":-0.81,"x":1707.5,"x2":1751,"y":369,"y2":455,"f":15.5},{"c":-0.9,"x":1752.5,"x2":1794.5,"y":369,"y2":413},{"t":"VSS","p":"-0.57","c":-0.57,"x":1796,"x2":1836,"y":369,"y2":413,"f":17},
{"c":-0.4,"x":1752.5,"x2":1767.5,"y":415,"y2":434},{"c":-0.6,"x":1752.5,"x2":1767.5,"y":436,"y2":455},{"c":-0.7,"x":1769,"x2":1785.5,"y":415,"y2":434},{"c":-0.3,"x":1769,"x2":1785.5,"y":436,"y2":455},{"c":-0.8,"x":1787,"x2":1801.5,"y":415,"y2":434},{"c":-0.8,"x":1787,"x2":1801.5,"y":436,"y2":455},{"c":-0.8,"x":1803,"x2":1818.5,"y":415,"y2":434},{"c":-0.9,"x":1803,"x2":1818.5,"y":436,"y2":455},{"c":-0.9,"x":1820,"x2":1836,"y":415,"y2":434},{"c":-0.9,"x":1820,"x2":1836,"y":436,"y2":455},
{"t":"EWJ","p":"-0.48%","c":-0.48,"x":1841,"x2":1949,"y":282,"y2":414,"f":28},{"t":"DXJ","c":-0.4,"x":1841,"x2":1914,"y":416,"y2":455,"f":21},{"c":-0.3,"x":1916,"x2":1932,"y":416,"y2":435},{"c":-0.5,"x":1934,"x2":1949,"y":416,"y2":435},{"c":-0.6,"x":1916,"x2":1932,"y":437,"y2":455},{"c":0,"x":1934,"x2":1949,"y":437,"y2":455},
{"t":"EWZ","p":"-0.07%","c":-0.07,"x":1707.5,"x2":1811,"y":477,"y2":645,"f":27},{"c":-0.5,"x":1707.5,"x2":1742,"y":647,"y2":656},{"c":-0.1,"x":1743.5,"x2":1776.5,"y":647,"y2":656},{"c":-0.1,"x":1778,"x2":1811,"y":647,"y2":656},
{"t":"INDA","p":"+0.16%","c":0.16,"x":1815,"x2":1919,"y":477,"y2":567,"f":26},{"t":"EPI","c":0.3,"x":1920.5,"x2":1949,"y":477,"y2":534,"f":13},{"c":0.6,"x":1920.5,"x2":1933.5,"y":536,"y2":557},{"c":-0.2,"x":1935,"x2":1949,"y":536,"y2":557},{"c":0.1,"x":1920.5,"x2":1949,"y":559,"y2":567},
{"t":"EWW","p":"-2.01%","c":-2.01,"x":1815,"x2":1881,"y":589,"y2":656,"f":15},{"t":"ILF","c":-0.8,"x":1883,"x2":1908.5,"y":589,"y2":621,"f":11},{"c":-0.7,"x":1883,"x2":1895,"y":623,"y2":644},{"c":-1,"x":1897,"x2":1908.5,"y":623,"y2":644},{"c":-0.6,"x":1883,"x2":1908.5,"y":646,"y2":656},{"t":"EWC","p":"-0.03","c":-0.03,"x":1913,"x2":1949,"y":577,"y2":637,"f":12},{"c":-1.5,"x":1913,"x2":1929.5,"y":646,"y2":656},{"c":-1.3,"x":1931,"x2":1949,"y":646,"y2":656},
{"t":"IBIT","p":"+10.05%","c":10.05,"x":1956,"x2":2073.5,"y":282,"y2":440,"f":30},{"t":"GBTC","p":"+10.07%","c":10.07,"x":1956,"x2":2073.5,"y":442,"y2":546,"f":27},{"t":"FBTC","p":"+10.11%","c":10.11,"x":1956,"x2":2073.5,"y":548,"y2":645,"f":30},{"t":"BITO","p":"+9.84%","c":9.84,"x":1957,"x2":2018,"y":647,"y2":752,"f":16},{"t":"ARKB","p":"+10.13%","c":10.13,"x":2019,"x2":2074,"y":647,"y2":710,"f":16},{"t":"BITB","p":"+10.06%","c":10.06,"x":2019,"x2":2074,"y":711.5,"y2":752,"f":16},
{"t":"QUAL","p":"+0.38%","c":0.38,"x":1957,"x2":2018,"y":797,"y2":901,"f":15},{"t":"USMV","p":"+0.14%","c":0.14,"x":2019,"x2":2074,"y":797,"y2":901,"f":16},{"t":"MTUM","p":"+0.50%","c":0.5,"x":1957,"x2":2025,"y":902,"y2":978.5,"f":17},{"t":"SPLV","p":"-0.20","c":-0.2,"x":2027,"x2":2074,"y":902,"y2":978.5,"f":14},{"t":"SPHQ","p":"+0.46","c":0.46,"x":1957,"x2":1996,"y":981,"y2":1028,"f":14},{"c":0.1,"x":1997,"x2":2023,"y":981,"y2":1028},{"c":0.1,"x":2024,"x2":2045,"y":981,"y2":995},{"c":0.3,"x":2024,"x2":2045,"y":997,"y2":1011},{"c":0.1,"x":2024,"x2":2045,"y":1013,"y2":1028},{"c":0.5,"x":2047,"x2":2058,"y":981,"y2":1002},{"c":0.5,"x":2047,"x2":2058,"y":1004,"y2":1028},{"c":-0.2,"x":2060,"x2":2074,"y":981,"y2":1002},{"c":0.1,"x":2060,"x2":2074,"y":1004,"y2":1028},
{"c":-0.3,"x":1957,"x2":1987,"y":1050,"y2":1110},{"c":0.3,"x":1988,"x2":2006,"y":1050,"y2":1063},{"c":0.5,"x":2008,"x2":2024,"y":1050,"y2":1063},{"c":0.1,"x":1988,"x2":2006,"y":1064.5,"y2":1078},{"c":-0.2,"x":2008,"x2":2024,"y":1064.5,"y2":1078},{"c":0.4,"x":1988,"x2":2006,"y":1079.5,"y2":1093},{"c":0.1,"x":2008,"x2":2024,"y":1079.5,"y2":1093},{"c":0.4,"x":1988,"x2":2006,"y":1095,"y2":1110},{"c":-0.3,"x":2008,"x2":2024,"y":1095,"y2":1110},
{"c":0.7,"x":2028,"x2":2043,"y":1037.5,"y2":1058},{"c":0.1,"x":2045,"x2":2058,"y":1037.5,"y2":1058},{"c":-0.3,"x":2060,"x2":2074,"y":1037.5,"y2":1058},{"c":0.1,"x":2028,"x2":2043,"y":1060,"y2":1079.5},{"c":-0.5,"x":2045,"x2":2058,"y":1060,"y2":1079.5},{"c":-0.4,"x":2060,"x2":2074,"y":1060,"y2":1079.5},{"c":-0.15,"x":2028,"x2":2051,"y":1081,"y2":1094},{"c":-0.5,"x":2053,"x2":2074,"y":1081,"y2":1094},{"c":0.4,"x":2028,"x2":2051,"y":1096,"y2":1110},{"c":-0.1,"x":2053,"x2":2074,"y":1096,"y2":1110},
{"c":0,"x":1957,"x2":1966,"y":1140.5,"y2":1151},{"c":0,"x":1967,"x2":1975,"y":1140.5,"y2":1151},{"c":-0.3,"x":1976,"x2":1984,"y":1140.5,"y2":1151},{"c":-0.3,"x":1985,"x2":1993,"y":1140.5,"y2":1151},{"c":-0.2,"x":1994,"x2":2003,"y":1140.5,"y2":1151},{"c":-0.3,"x":2005,"x2":2012,"y":1140.5,"y2":1151},{"c":0.1,"x":2017,"x2":2034,"y":1140.5,"y2":1151},{"c":0.1,"x":2036,"x2":2045,"y":1140.5,"y2":1151},{"c":-0.3,"x":2047,"x2":2054,"y":1140.5,"y2":1151},{"c":0.3,"x":2058,"x2":2065,"y":1140.5,"y2":1151},{"c":0.1,"x":2066,"x2":2074,"y":1140.5,"y2":1151},
{"t":"AGG","p":"-0.35%","c":-0.35,"x":1685,"x2":1857,"y":700,"y2":806,"f":45},{"t":"BND","p":"-0.32%","c":-0.32,"x":1685,"x2":1857,"y":808,"y2":908,"f":45},{"t":"BNDX","p":"+0.10%","c":0.1,"x":1859,"x2":1949,"y":700,"y2":759.5,"f":22},{"t":"MINT","c":0,"x":1859,"x2":1949,"y":761,"y2":803,"f":25},{"t":"FLOT","p":"-0.03%","c":-0.03,"x":1859,"x2":1910,"y":805,"y2":842,"f":15},{"t":"FTSM","p":"+0.02","c":0.02,"x":1912,"x2":1949,"y":805,"y2":842,"f":12},{"c":-0.3,"x":1859,"x2":1886,"y":844,"y2":877},{"c":0,"x":1859,"x2":1886,"y":878,"y2":908},{"c":-0.3,"x":1887,"x2":1910,"y":844,"y2":872},{"c":0,"x":1912,"x2":1931,"y":844,"y2":872},{"c":-0.05,"x":1933,"x2":1949,"y":844,"y2":872},{"c":-0.7,"x":1887,"x2":1907,"y":873.5,"y2":890},{"c":-0.8,"x":1909,"x2":1928,"y":873.5,"y2":890},{"c":-0.3,"x":1930,"x2":1949,"y":873.5,"y2":890},{"c":-0.6,"x":1887,"x2":1907,"y":892,"y2":908},{"c":-0.2,"x":1909,"x2":1928,"y":892,"y2":908},{"c":-0.5,"x":1930,"x2":1949,"y":892,"y2":908},
{"t":"EMB","p":"-0.41%","c":-0.41,"x":1685,"x2":1843,"y":930,"y2":1035,"f":33},{"c":-0.5,"x":1844,"x2":1884,"y":930,"y2":950},{"t":"EMLC","c":-0.3,"x":1844,"x2":1884,"y":951.5,"y2":968,"f":11},{"c":-0.5,"x":1844,"x2":1864,"y":970,"y2":986},{"c":-0.4,"x":1865,"x2":1884,"y":970,"y2":986},{"c":-0.5,"x":1844,"x2":1864,"y":987,"y2":1003},{"c":-0.4,"x":1865,"x2":1884,"y":987,"y2":1003},{"c":-0.5,"x":1844,"x2":1864,"y":1004,"y2":1019},{"c":-0.4,"x":1865,"x2":1884,"y":1004,"y2":1019},{"c":-0.5,"x":1844,"x2":1864,"y":1021,"y2":1035},{"c":-0.5,"x":1865,"x2":1884,"y":1021,"y2":1035},
{"t":"BSV","p":"-0.07%","c":-0.07,"x":1889,"x2":1949,"y":930,"y2":998,"f":21},{"t":"BIV","p":"-0.28%","c":-0.28,"x":1889,"x2":1949,"y":1000,"y2":1037,"f":20},{"t":"BLV","c":-0.8,"x":1889,"x2":1922,"y":1039,"y2":1075,"f":15},{"c":-0.4,"x":1924,"x2":1949,"y":1039,"y2":1062},{"c":-0.5,"x":1924,"x2":1949,"y":1064,"y2":1075},
{"c":3,"x":1889,"x2":1917,"y":1096.5,"y2":1151},{"t":"TBT","c":1.5,"x":1919,"x2":1949,"y":1096.5,"y2":1114,"f":12},{"c":0.6,"x":1919,"x2":1934,"y":1116,"y2":1133.5},{"c":0,"x":1936,"x2":1949,"y":1116,"y2":1133.5},{"c":0.5,"x":1919,"x2":1934,"y":1135,"y2":1151},{"c":3,"x":1936,"x2":1949,"y":1135,"y2":1151},
{"t":"MUB","p":"-0.09%","c":-0.09,"x":1685,"x2":1818,"y":1057.5,"y2":1151,"f":31},{"t":"SUB","c":0,"x":1820,"x2":1859,"y":1057.5,"y2":1088,"f":15},{"c":-0.5,"x":1861,"x2":1884,"y":1057.5,"y2":1088},{"c":-0.3,"x":1820,"x2":1844,"y":1090,"y2":1120},{"t":"TFI","c":-0.1,"x":1820,"x2":1844,"y":1121.5,"y2":1151,"f":11},{"c":-0.5,"x":1846,"x2":1863,"y":1090,"y2":1109},{"c":0,"x":1865,"x2":1884,"y":1090,"y2":1109},{"c":-0.3,"x":1846,"x2":1865,"y":1111,"y2":1125.5},{"c":-0.7,"x":1867,"x2":1884,"y":1111,"y2":1125.5},{"c":-0.5,"x":1846,"x2":1857,"y":1127.5,"y2":1151},{"c":-0.4,"x":1859,"x2":1871,"y":1127.5,"y2":1151},{"c":-0.5,"x":1873,"x2":1884,"y":1127.5,"y2":1151},
{"t":"TLT","p":"-1.15%","c":-1.15,"x":1064,"x2":1229,"y":700,"y2":816,"f":45},{"t":"IEF","p":"-0.32%","c":-0.32,"x":1231,"x2":1395.5,"y":700,"y2":816,"f":45},{"t":"BIL","p":"+0.02%","c":0.02,"x":1064,"x2":1217,"y":818,"y2":942.5,"f":45},{"t":"TMF","p":"-3.31%","c":-3.31,"x":1219,"x2":1310,"y":818,"y2":942.5,"f":27},{"t":"SHV","p":"+0.02%","c":0.02,"x":1311.5,"x2":1395.5,"y":818,"y2":942.5,"f":20},{"t":"SHY","p":"0.00%","c":0,"x":1064,"x2":1154,"y":944,"y2":1058,"f":27},{"t":"TIP","p":"-0.07%","c":-0.07,"x":1064,"x2":1154,"y":1060,"y2":1151,"f":33},{"t":"MBB","p":"-0.38%","c":-0.38,"x":1155.5,"x2":1246,"y":944,"y2":1031,"f":21},{"t":"IEI","p":"-0.09%","c":-0.09,"x":1155.5,"x2":1246,"y":1032.5,"y2":1097,"f":34},{"t":"GOVT","p":"-0.24%","c":-0.24,"x":1155.5,"x2":1246,"y":1099,"y2":1151,"f":20},{"t":"VGIT","p":"-0.14%","c":-0.14,"x":1247,"x2":1326,"y":944,"y2":1002,"f":21},{"t":"VGSH","p":"+0.02%","c":0.02,"x":1328,"x2":1395.5,"y":944,"y2":1002,"f":17},{"t":"VGLT","p":"-0.93%","c":-0.93,"x":1247,"x2":1305,"y":1004,"y2":1067,"f":17},{"t":"VMBS","p":"-0.37%","c":-0.37,"x":1307,"x2":1355,"y":1004,"y2":1049,"f":13},{"t":"STIP","p":"+0.05","c":0.05,"x":1357,"x2":1395.5,"y":1004,"y2":1049,"f":13},{"t":"SCHO","p":"+0.02","c":0.02,"x":1307,"x2":1350,"y":1051,"y2":1083,"f":12},{"t":"VTIP","p":"+0.08","c":0.08,"x":1352,"x2":1395.5,"y":1051,"y2":1083,"f":14},{"t":"SCHP","p":"-0.06%","c":-0.06,"x":1247,"x2":1305,"y":1068.5,"y2":1112,"f":16},{"t":"TLH","p":"-0.72%","c":-0.72,"x":1247,"x2":1305,"y":1114,"y2":1151,"f":19},{"c":-0.35,"x":1307,"x2":1343,"y":1085,"y2":1119},{"t":"EDV","c":-1.6,"x":1307,"x2":1343,"y":1121,"y2":1151,"f":14},{"c":-1.5,"x":1344.5,"x2":1382,"y":1085,"y2":1114},{"c":-0.7,"x":1384,"x2":1395.5,"y":1085,"y2":1114},{"c":0.3,"x":1344.5,"x2":1364,"y":1115.5,"y2":1131},{"c":0.1,"x":1344.5,"x2":1364,"y":1133,"y2":1151},{"c":0.1,"x":1366,"x2":1379,"y":1115.5,"y2":1138.5},{"c":0,"x":1380,"x2":1395.5,"y":1115.5,"y2":1138.5},{"c":-1.8,"x":1366,"x2":1395.5,"y":1140,"y2":1151},
{"t":"HYG","p":"+0.01%","c":0.01,"x":1400,"x2":1539.5,"y":700,"y2":837,"f":35},{"t":"LQD","p":"-0.55%","c":-0.55,"x":1541,"x2":1680.5,"y":700,"y2":837,"f":35},{"t":"VCIT","p":"-0.34%","c":-0.34,"x":1400,"x2":1551,"y":838.5,"y2":965,"f":36},{"t":"JNK","p":"0.00%","c":0,"x":1552.5,"x2":1680.5,"y":838.5,"y2":965,"f":36},{"t":"BKLN","p":"0.00%","c":0,"x":1400,"x2":1499,"y":966.5,"y2":1059.5,"f":19},{"t":"VCSH","p":"-0.06%","c":-0.06,"x":1400,"x2":1499,"y":1061.5,"y2":1151,"f":19},{"t":"VCLT","p":"-0.92%","c":-0.92,"x":1500.5,"x2":1597.5,"y":966.5,"y2":1032,"f":21},{"t":"SRLN","p":"+0.05%","c":0.05,"x":1599.5,"x2":1680.5,"y":966.5,"y2":1032,"f":20},{"t":"PFF","p":"-0.11%","c":-0.11,"x":1500.5,"x2":1572,"y":1034,"y2":1099,"f":23},{"t":"SJNK","p":"0.00%","c":0,"x":1500.5,"x2":1572,"y":1100.5,"y2":1151,"f":19},{"t":"SHYG","p":"-0.02","c":-0.02,"x":1574,"x2":1620,"y":1034,"y2":1077.5,"f":14},{"t":"PGX","c":-0.3,"x":1622,"x2":1653,"y":1034,"y2":1077.5,"f":11},{"c":0.1,"x":1655,"x2":1680.5,"y":1034,"y2":1077.5},{"c":0,"x":1574,"x2":1595,"y":1079,"y2":1112},{"c":0,"x":1574,"x2":1595,"y":1113.5,"y2":1131},{"c":0,"x":1574,"x2":1595,"y":1133,"y2":1151},
{"c":-0.3,"x":1597,"x2":1616,"y":1079,"y2":1095.5},{"c":-0.3,"x":1618,"x2":1638,"y":1079,"y2":1095.5},{"c":0,"x":1640,"x2":1659,"y":1079,"y2":1095.5},{"c":0,"x":1661,"x2":1680.5,"y":1079,"y2":1095.5},{"c":-0.4,"x":1597,"x2":1616,"y":1097,"y2":1115},{"c":0.1,"x":1618,"x2":1638,"y":1097,"y2":1115},{"c":-0.5,"x":1640,"x2":1659,"y":1097,"y2":1115},{"c":-0.4,"x":1661,"x2":1680.5,"y":1097,"y2":1115},{"c":-0.6,"x":1597,"x2":1616,"y":1116.5,"y2":1133},{"c":0.1,"x":1618,"x2":1638,"y":1116.5,"y2":1133},{"c":-0.3,"x":1640,"x2":1659,"y":1116.5,"y2":1133},{"c":0.1,"x":1661,"x2":1680.5,"y":1116.5,"y2":1133},{"c":0.3,"x":1597,"x2":1616,"y":1135,"y2":1151},{"c":-0.3,"x":1618,"x2":1638,"y":1135,"y2":1151},{"c":-0.3,"x":1640,"x2":1659,"y":1135,"y2":1151},{"c":-0.3,"x":1661,"x2":1680.5,"y":1135,"y2":1151},
{"t":"XLK","p":"+0.18%","c":0.18,"x":0,"x2":139,"y":548,"y2":684,"f":35},{"t":"SOXL","p":"+0.31%","c":0.31,"x":140,"x2":281,"y":548,"y2":684,"f":30},{"t":"SOXX","p":"+0.11%","c":0.11,"x":0,"x2":149,"y":686,"y2":812,"f":29},{"t":"VGT","p":"+0.51%","c":0.51,"x":150.5,"x2":281,"y":686,"y2":761,"f":29},{"t":"SOXS","p":"+0.10%","c":0.1,"x":0,"x2":149,"y":813,"y2":941,"f":32},{"t":"TECL","p":"+0.50%","c":0.5,"x":150.5,"x2":227,"y":763,"y2":867,"f":20},{"t":"IYW","p":"+0.49%","c":0.49,"x":229,"x2":281,"y":763,"y2":867,"f":16},{"t":"FDN","c":0.3,"x":150.5,"x2":187,"y":869,"y2":941,"f":13},{"t":"USD","p":"-0.19%","c":-0.19,"x":188,"x2":239,"y":869,"y2":913,"f":15},{"t":"FTEC","c":0.3,"x":188,"x2":239,"y":914,"y2":941,"f":15},{"c":0.15,"x":240,"x2":264.5,"y":869,"y2":893},{"c":0.35,"x":266,"x2":281,"y":869,"y2":893},{"c":0.5,"x":240,"x2":259.6,"y":895,"y2":912},{"c":0,"x":261,"x2":281,"y":895,"y2":912},{"c":0.1,"x":240,"x2":266,"y":914,"y2":926},{"c":0.6,"x":240,"x2":266,"y":928,"y2":941},{"c":0.5,"x":268,"x2":281,"y":914,"y2":941},
{"t":"XLY","p":"-0.12%","c":-0.12,"x":285.5,"x2":452,"y":548,"y2":658,"f":44},{"t":"XHB","p":"+0.17%","c":0.17,"x":453.5,"x2":536,"y":548,"y2":654,"f":21},{"t":"XRT","p":"-0.90%","c":-0.9,"x":285.5,"x2":452,"y":659,"y2":758,"f":44},{"t":"ITB","p":"-0.09%","c":-0.09,"x":453.5,"x2":536,"y":656,"y2":732,"f":27},{"c":-0.2,"x":453.5,"x2":476,"y":734,"y2":758},{"c":-0.6,"x":477.5,"x2":491,"y":734,"y2":758},{"c":-0.2,"x":492.5,"x2":505.5,"y":734,"y2":758},{"c":-0.2,"x":507,"x2":521,"y":734,"y2":758},{"c":-3,"x":523,"x2":536,"y":734,"y2":758},
{"t":"XLE","p":"+1.51%","c":1.51,"x":285.5,"x2":454.5,"y":780,"y2":887,"f":42},{"t":"XOP","p":"+1.49%","c":1.49,"x":285.5,"x2":454.5,"y":888,"y2":984,"f":42},{"t":"AMLP","c":0.4,"x":456,"x2":521,"y":780,"y2":812,"f":16},{"t":"VDE","c":1.3,"x":456,"x2":491,"y":813,"y2":867,"f":11},{"c":1.3,"x":493,"x2":521,"y":813,"y2":867},{"t":"ERX","c":2.7,"x":456,"x2":492,"y":869,"y2":897,"f":12.5},{"t":"IYE","c":1,"x":493.5,"x2":521,"y":869,"y2":897,"f":11},{"c":0.7,"x":457,"x2":477,"y":899,"y2":919},{"c":1,"x":480,"x2":499.6,"y":899,"y2":919},{"c":0,"x":502,"x2":521,"y":899,"y2":919},{"c":-3.5,"x":457,"x2":473,"y":921.5,"y2":941},{"c":-3.5,"x":457,"x2":473,"y":943,"y2":963},{"c":3,"x":475.6,"x2":496.5,"y":921.5,"y2":936},{"c":3,"x":499,"x2":521,"y":921.5,"y2":936},{"c":-0.7,"x":475.6,"x2":496.5,"y":938,"y2":951},{"c":2.5,"x":499,"x2":521,"y":938,"y2":951},{"c":1,"x":475.6,"x2":496.5,"y":953,"y2":968},{"c":0.9,"x":499,"x2":521,"y":953,"y2":968},{"c":0.9,"x":457,"x2":473,"y":965,"y2":984},{"c":3,"x":475.6,"x2":496.5,"y":970,"y2":984},{"c":0.2,"x":499,"x2":521,"y":970,"y2":984},
{"t":"XLV","p":"-0.35%","c":-0.35,"x":0,"x2":94,"y":963,"y2":1151,"f":24},{"t":"XBI","p":"+0.95%","c":0.95,"x":95.7,"x2":281,"y":963,"y2":1061,"f":52},{"t":"IBB","p":"+0.08%","c":0.08,"x":95.7,"x2":175,"y":1062.5,"y2":1151,"f":26},{"t":"IHI","c":-0.9,"x":176,"x2":209,"y":1062.5,"y2":1109,"f":13},{"t":"VHT","c":-0.3,"x":176,"x2":209,"y":1111,"y2":1151,"f":12},{"t":"IYH","c":-0.25,"x":210.5,"x2":245,"y":1062.5,"y2":1081.7,"f":13},{"c":0.1,"x":247,"x2":262,"y":1062.5,"y2":1081.7},{"c":-0.6,"x":264,"x2":281,"y":1062.5,"y2":1081.7},{"c":-0.9,"x":210.5,"x2":231,"y":1083,"y2":1100},{"c":-1.2,"x":210.5,"x2":231,"y":1102,"y2":1117},{"c":-0.1,"x":210.5,"x2":231,"y":1118,"y2":1134},{"c":0.3,"x":210.5,"x2":231,"y":1136,"y2":1151},{"c":-0.2,"x":233,"x2":248,"y":1083,"y2":1104},{"c":-0.6,"x":233,"x2":248,"y":1106,"y2":1128},{"c":-0.9,"x":233,"x2":248,"y":1130,"y2":1151},{"c":-0.3,"x":250,"x2":263.5,"y":1083,"y2":1104},{"c":0.2,"x":250,"x2":263.5,"y":1106,"y2":1128},{"c":0.6,"x":250,"x2":263.5,"y":1130,"y2":1151},{"c":-0.5,"x":265.5,"x2":281,"y":1083,"y2":1104},{"c":0,"x":265.5,"x2":281,"y":1106,"y2":1128},{"c":2.3,"x":265.5,"x2":281,"y":1130,"y2":1151},
{"t":"XLF","p":"+1.46%","c":1.46,"x":540.4,"x2":717.5,"y":549,"y2":651,"f":44},{"t":"KRE","p":"+2.92%","c":2.92,"x":540.4,"x2":717.5,"y":653,"y2":758,"f":44},{"t":"KBE","c":2.2,"x":719.5,"x2":781,"y":549,"y2":584,"f":19},{"t":"FAS","c":2.6,"x":719.5,"x2":781,"y":586,"y2":617,"f":19},{"t":"KIE","c":0.8,"x":719.5,"x2":753.7,"y":619,"y2":664,"f":14},{"c":1,"x":755.7,"x2":781,"y":619,"y2":664},{"t":"FAZ","c":-3.5,"x":719.5,"x2":751,"y":667,"y2":700,"f":12},{"c":0.8,"x":753.7,"x2":781,"y":667,"y2":700},{"c":0.7,"x":719.5,"x2":737,"y":702,"y2":734.5},{"c":0.8,"x":719.5,"x2":737,"y":736.5,"y2":758},{"c":0.7,"x":739,"x2":759,"y":702,"y2":716},{"c":2.7,"x":761,"x2":781,"y":702,"y2":716},{"c":0.9,"x":739,"x2":755,"y":718,"y2":736.5},{"c":1,"x":739,"x2":755,"y":738.5,"y2":758},{"c":0.8,"x":757,"x2":781,"y":718,"y2":729.6},{"c":0.2,"x":757,"x2":781,"y":731.6,"y2":744},{"c":-3.5,"x":757,"x2":781,"y":746,"y2":758},
{"t":"XLI","p":"+0.72%","c":0.72,"x":525.6,"x2":659,"y":780,"y2":914,"f":33},{"t":"ITA","c":0.5,"x":525.6,"x2":561,"y":916,"y2":963,"f":16},{"t":"IYT","c":1,"x":563,"x2":589,"y":916,"y2":963,"f":11},{"c":0.6,"x":590.4,"x2":613.4,"y":916,"y2":942},{"c":0.2,"x":590.4,"x2":613.4,"y":944,"y2":963},{"c":0.9,"x":615.4,"x2":637,"y":916,"y2":930},{"c":1.1,"x":615.4,"x2":637,"y":932.4,"y2":947},{"c":0.7,"x":615.4,"x2":637,"y":949,"y2":963},{"c":0.6,"x":639.4,"x2":659,"y":916,"y2":930},{"c":0.5,"x":639.4,"x2":659,"y":932.4,"y2":947},{"c":0.7,"x":639.4,"x2":659,"y":949,"y2":963},
{"t":"XLB","p":"-0.25%","c":-0.25,"x":663,"x2":781,"y":780,"y2":891.6,"f":30},{"t":"XME","p":"+1.08%","c":1.08,"x":663,"x2":755.7,"y":893.7,"y2":963,"f":21},{"c":0,"x":758,"x2":781,"y":893.7,"y2":905},{"c":-0.3,"x":758,"x2":781,"y":907,"y2":919.4},{"c":0,"x":758,"x2":781,"y":921.4,"y2":934.5},{"c":-0.3,"x":758,"x2":781,"y":936.5,"y2":949.6},{"c":-0.5,"x":758,"x2":781,"y":951.6,"y2":963},
{"t":"IYR","p":"+0.46%","c":0.46,"x":285.3,"x2":404,"y":1006,"y2":1151,"f":36},{"t":"VNQ","p":"+0.68%","c":0.68,"x":406,"x2":521,"y":1006,"y2":1106,"f":29},{"t":"SCHH","p":"+0.58%","c":0.58,"x":406,"x2":458,"y":1108,"y2":1151,"f":15},{"c":0.6,"x":460,"x2":480,"y":1107,"y2":1134},{"c":0.5,"x":460,"x2":480,"y":1136,"y2":1151},{"c":0.6,"x":482,"x2":500,"y":1107,"y2":1124},{"c":0.7,"x":502,"x2":521,"y":1107,"y2":1124},{"c":0.6,"x":482,"x2":506,"y":1125.7,"y2":1137},{"c":0.4,"x":482,"x2":506,"y":1139,"y2":1151},{"c":-0.5,"x":509,"x2":521,"y":1125.7,"y2":1151},
{"t":"XLU","p":"-2.43%","c":-2.43,"x":525.6,"x2":647,"y":985.5,"y2":1131.6,"f":30},{"t":"VPU","c":-2.2,"x":525.5,"x2":569,"y":1133,"y2":1151,"f":15},{"c":-1.8,"x":571,"x2":592.4,"y":1133,"y2":1151},{"c":-1.8,"x":594.5,"x2":610.6,"y":1133,"y2":1151},{"c":-1.9,"x":612.6,"x2":628.7,"y":1133,"y2":1151},{"c":-3.5,"x":630.8,"x2":647,"y":1133,"y2":1151},
{"t":"XLP","p":"-0.58%","c":-0.58,"x":651.6,"x2":781,"y":985.5,"y2":1120,"f":35},{"t":"VDC","c":-0.4,"x":652,"x2":688.7,"y":1122.5,"y2":1137.5,"f":12},{"c":-0.2,"x":691,"x2":713,"y":1122.5,"y2":1137.5},{"c":-1,"x":715.4,"x2":735.5,"y":1122.5,"y2":1137.5},{"c":-0.8,"x":737.5,"x2":757.7,"y":1122.5,"y2":1137.5},{"c":-0.8,"x":760,"x2":781,"y":1122.5,"y2":1137.5},{"c":0.4,"x":652,"x2":720,"y":1146.7,"y2":1151},{"c":0.4,"x":722.4,"x2":750.6,"y":1146.7,"y2":1151},{"c":0.4,"x":755.7,"x2":781,"y":1146.7,"y2":1151},
{"t":"MDY","p":"+0.55%","c":0.55,"x":788,"x2":932,"y":537,"y2":637,"f":39},{"t":"IJH","p":"+0.61%","c":0.61,"x":788,"x2":932,"y":640,"y2":719,"f":45},{"t":"VO","p":"+0.13%","c":0.13,"x":933,"x2":998,"y":537,"y2":600,"f":21},{"t":"IWR","p":"+0.34%","c":0.34,"x":933,"x2":998,"y":602,"y2":653,"f":21},{"t":"VXF","p":"+1.17","c":1.17,"x":933,"x2":971.5,"y":655,"y2":700,"f":17},{"c":0.5,"x":973.6,"x2":984,"y":655,"y2":679},{"c":0.4,"x":986,"x2":998,"y":655,"y2":679},{"c":0.6,"x":973.6,"x2":984,"y":681,"y2":706},{"c":1,"x":986,"x2":998,"y":681,"y2":706},{"c":0.4,"x":933,"x2":971.5,"y":702,"y2":719},{"c":0.5,"x":973.6,"x2":998,"y":707.5,"y2":719},
{"t":"IWP","p":"+0.39%","c":0.39,"x":1002.6,"x2":1057,"y":524,"y2":573,"f":17},{"t":"VOT","c":0.2,"x":1002.6,"x2":1041.5,"y":575,"y2":598.6,"f":16},{"c":0.4,"x":1044,"x2":1057,"y":575,"y2":598.6},{"t":"IJK","c":0.2,"x":1002.6,"x2":1041.5,"y":601,"y2":623,"f":16},{"c":0.4,"x":1044,"x2":1057,"y":601,"y2":623},{"t":"IWS","c":0.1,"x":1002.6,"x2":1057,"y":632.4,"y2":658,"f":18},{"t":"VOE","c":0.1,"x":1002.6,"x2":1040.4,"y":660,"y2":692.4,"f":16},{"c":0.4,"x":1043,"x2":1057,"y":660,"y2":692.4},{"c":0.7,"x":1002.6,"x2":1013,"y":701,"y2":719},{"c":1.1,"x":1016,"x2":1027.6,"y":701,"y2":719},{"c":-0.6,"x":1030,"x2":1042,"y":701,"y2":719},{"c":0.9,"x":1044.5,"x2":1057,"y":701,"y2":719},
{"t":"IWM","p":"+1.90%","c":1.9,"x":788,"x2":898.6,"y":763,"y2":921.4,"f":30},{"t":"IJR","p":"+1.37%","c":1.37,"x":900.6,"x2":1057,"y":763,"y2":834.5,"f":42},{"t":"VTWO","p":"+1.86%","c":1.86,"x":900.6,"x2":963,"y":836.5,"y2":921.4,"f":17},{"t":"VB","p":"+1.10","c":1.1,"x":965,"x2":1010,"y":836.5,"y2":921.4,"f":20},{"t":"SCHA","c":0.6,"x":1012,"x2":1057,"y":836.5,"y2":866,"f":14},{"c":1.4,"x":1012,"x2":1034,"y":868,"y2":882.6},{"c":0.7,"x":1036,"x2":1057,"y":868,"y2":882.6},{"c":0.7,"x":1012,"x2":1027,"y":884.7,"y2":902},{"c":1.4,"x":1012,"x2":1027,"y":904,"y2":921.4},{"c":0.9,"x":1029.7,"x2":1042,"y":884.7,"y2":908},{"c":0.7,"x":1044.5,"x2":1057,"y":884.7,"y2":908},{"c":0.7,"x":1029.7,"x2":1057,"y":910,"y2":921.4},
{"t":"TNA","p":"+5.70%","c":5.7,"x":788,"x2":954,"y":943.5,"y2":1040,"f":45},{"c":3,"x":957,"x2":977,"y":943.5,"y2":999},{"c":3,"x":957,"x2":977,"y":1001,"y2":1040},
{"t":"IWN","p":"+1.81%","c":1.81,"x":982,"x2":1057,"y":943.5,"y2":1013,"f":22},{"t":"VBR","p":"+0.84%","c":0.84,"x":982,"x2":1029,"y":1015,"y2":1062.7,"f":17},{"t":"IJS","c":0.7,"x":1031,"x2":1057,"y":1015,"y2":1043.5,"f":13},{"c":0.7,"x":1031,"x2":1057,"y":1045.5,"y2":1062.7},
{"t":"IWO","p":"+1.93","c":1.93,"x":982,"x2":1021,"y":1084.7,"y2":1151,"f":15},{"t":"VBK","c":0.6,"x":1023,"x2":1057,"y":1084.7,"y2":1130,"f":12},{"c":0.9,"x":1023,"x2":1039.7,"y":1132.4,"y2":1151},{"c":0.9,"x":1041.5,"x2":1057,"y":1132.4,"y2":1151},
{"t":"TZA","p":"-5.40%","c":-5.4,"x":788,"x2":928,"y":1062,"y2":1151,"f":40},{"t":"SRTY","c":-3.5,"x":930.7,"x2":977,"y":1062,"y2":1091,"f":16},{"t":"TWM","c":-3.5,"x":930.7,"x2":977,"y":1093,"y2":1123,"f":16},{"t":"RWM","c":-3.5,"x":930.7,"x2":977,"y":1124.7,"y2":1151,"f":15}
]},
"layer":[
{"data":{"name":"tiles"},"mark":{"type":"rect"},"encoding":{"x":{"field":"x","type":"quantitative","axis":null,"scale":{"domain":[0,2079],"nice":false,"zero":false}},"x2":{"field":"x2"},"y":{"field":"y","type":"quantitative","axis":null,"scale":{"domain":[1217,0],"nice":false,"zero":false}},"y2":{"field":"y2"},"fill":{"field":"c","type":"quantitative","legend":null,"scale":{"type":"linear","domain":[-3,-2,-1,0,1,2,3],"range":["#f63538","#bf4045","#8b444e","#414554","#35764e","#2f9e4f","#30cc5a"],"clamp":true,"interpolate":"rgb"}}}},
{"data":{"name":"headers"},"mark":{"type":"rect"},"encoding":{"x":{"field":"x","type":"quantitative"},"x2":{"field":"x2"},"y":{"field":"y","type":"quantitative"},"y2":{"field":"y2"},"fill":{"field":"c","type":"quantitative"}}},
{"data":{"name":"legend"},"mark":{"type":"rect"},"encoding":{"x":{"field":"x","type":"quantitative"},"x2":{"field":"x2"},"y":{"field":"y","type":"quantitative"},"y2":{"field":"y2"},"fill":{"field":"c","type":"quantitative"}}},
{"data":{"name":"headers"},"transform":[{"calculate":"datum.x+12.5","as":"nx"},{"calculate":"datum.y2+0.5","as":"ny"}],"mark":{"type":"point","shape":"M-1,0L0,1L1,0Z","size":225,"filled":true,"opacity":1,"stroke":"#262931","strokeWidth":1.4},"encoding":{"x":{"field":"nx","type":"quantitative"},"y":{"field":"ny","type":"quantitative"},"fill":{"field":"c","type":"quantitative"}}},
{"data":{"name":"headers"},"transform":[{"calculate":"datum.x+6","as":"hx"},{"calculate":"(datum.y+datum.y2)/2","as":"hy"}],"mark":{"type":"text","align":"left","baseline":"middle","fontSize":15,"font":"Lato","fill":"#e4e4e6"},"encoding":{"x":{"field":"hx","type":"quantitative"},"y":{"field":"hy","type":"quantitative"},"text":{"field":"n"}}},
{"data":{"name":"titles"},"mark":{"type":"text","align":"left","baseline":"middle","fontSize":19.6,"font":"Lato","fontWeight":"bold","fill":"#f2f2f2"},"encoding":{"x":{"field":"x","type":"quantitative"},"y":{"field":"y","type":"quantitative"},"text":{"field":"n"}}},
{"data":{"name":"tiles"},"transform":[{"filter":"datum.t"},{"calculate":"(datum.x+datum.x2)/2","as":"cx"},{"calculate":"(datum.y+datum.y2)/2+(datum.p?-0.27*datum.f-1:0)","as":"ty"}],"mark":{"type":"text","align":"center","baseline":"middle","font":"Lato","fontWeight":"bold","fill":"#000000","opacity":0.55,"dx":1,"dy":1},"encoding":{"x":{"field":"cx","type":"quantitative"},"y":{"field":"ty","type":"quantitative"},"text":{"field":"t"},"size":{"field":"f","type":"quantitative","scale":null,"legend":null}}},
{"data":{"name":"tiles"},"transform":[{"filter":"datum.t"},{"calculate":"(datum.x+datum.x2)/2","as":"cx"},{"calculate":"(datum.y+datum.y2)/2+(datum.p?-0.27*datum.f-1:0)","as":"ty"}],"mark":{"type":"text","align":"center","baseline":"middle","font":"Lato","fontWeight":"bold","fill":"#ffffff"},"encoding":{"x":{"field":"cx","type":"quantitative"},"y":{"field":"ty","type":"quantitative"},"text":{"field":"t"},"size":{"field":"f","type":"quantitative","scale":null,"legend":null}}},
{"data":{"name":"tiles"},"transform":[{"filter":"datum.p"},{"calculate":"(datum.x+datum.x2)/2","as":"cx"},{"calculate":"(datum.y+datum.y2)/2+0.42*datum.f+3.5","as":"py"}],"mark":{"type":"text","align":"center","baseline":"middle","font":"Lato","fill":"#000000","opacity":0.55,"dx":1,"dy":1},"encoding":{"x":{"field":"cx","type":"quantitative"},"y":{"field":"py","type":"quantitative"},"text":{"field":"p"},"size":{"field":"f","type":"quantitative","legend":null,"scale":{"type":"linear","domain":[12,16,20,30,35,44,47,52,60],"range":[10,12.8,14.8,18.9,21,23,23,27,28]}}}},
{"data":{"name":"tiles"},"transform":[{"filter":"datum.p"},{"calculate":"(datum.x+datum.x2)/2","as":"cx"},{"calculate":"(datum.y+datum.y2)/2+0.42*datum.f+3.5","as":"py"}],"mark":{"type":"text","align":"center","baseline":"middle","font":"Lato","fill":"#ffffff"},"encoding":{"x":{"field":"cx","type":"quantitative"},"y":{"field":"py","type":"quantitative"},"text":{"field":"p"},"size":{"field":"f","type":"quantitative","legend":null,"scale":{"type":"linear","domain":[12,16,20,30,35,44,47,52,60],"range":[10,12.8,14.8,18.9,21,23,23,27,28]}}}},
{"data":{"name":"legend"},"transform":[{"calculate":"(datum.x+datum.x2)/2","as":"cx"},{"calculate":"(datum.y+datum.y2)/2+2","as":"cy"}],"mark":{"type":"text","align":"center","baseline":"middle","font":"Lato","fontSize":17,"fill":"#f0f0f0"},"encoding":{"x":{"field":"cx","type":"quantitative"},"y":{"field":"cy","type":"quantitative"},"text":{"field":"n"}}},
{"data":{"name":"notes"},"mark":{"type":"text","align":"left","baseline":"middle","font":"Lato","fontSize":16.7,"fill":"#5d6584"},"encoding":{"x":{"field":"x","type":"quantitative"},"y":{"field":"y","type":"quantitative"},"text":{"field":"n"}}},
{"data":{"name":"icon"},"mark":{"type":"point","filled":true,"size":260,"opacity":1,"fill":"#6b7390","shape":"circle"},"encoding":{"x":{"field":"x","type":"quantitative"},"y":{"field":"y","type":"quantitative"}}},
{"data":{"name":"icon"},"mark":{"type":"text","align":"center","baseline":"middle","font":"Lato","fontWeight":"bold","fontSize":15,"fill":"#262931"},"encoding":{"x":{"field":"x","type":"quantitative"},"y":{"field":"y","type":"quantitative"},"text":{"field":"n"}}}
]}
